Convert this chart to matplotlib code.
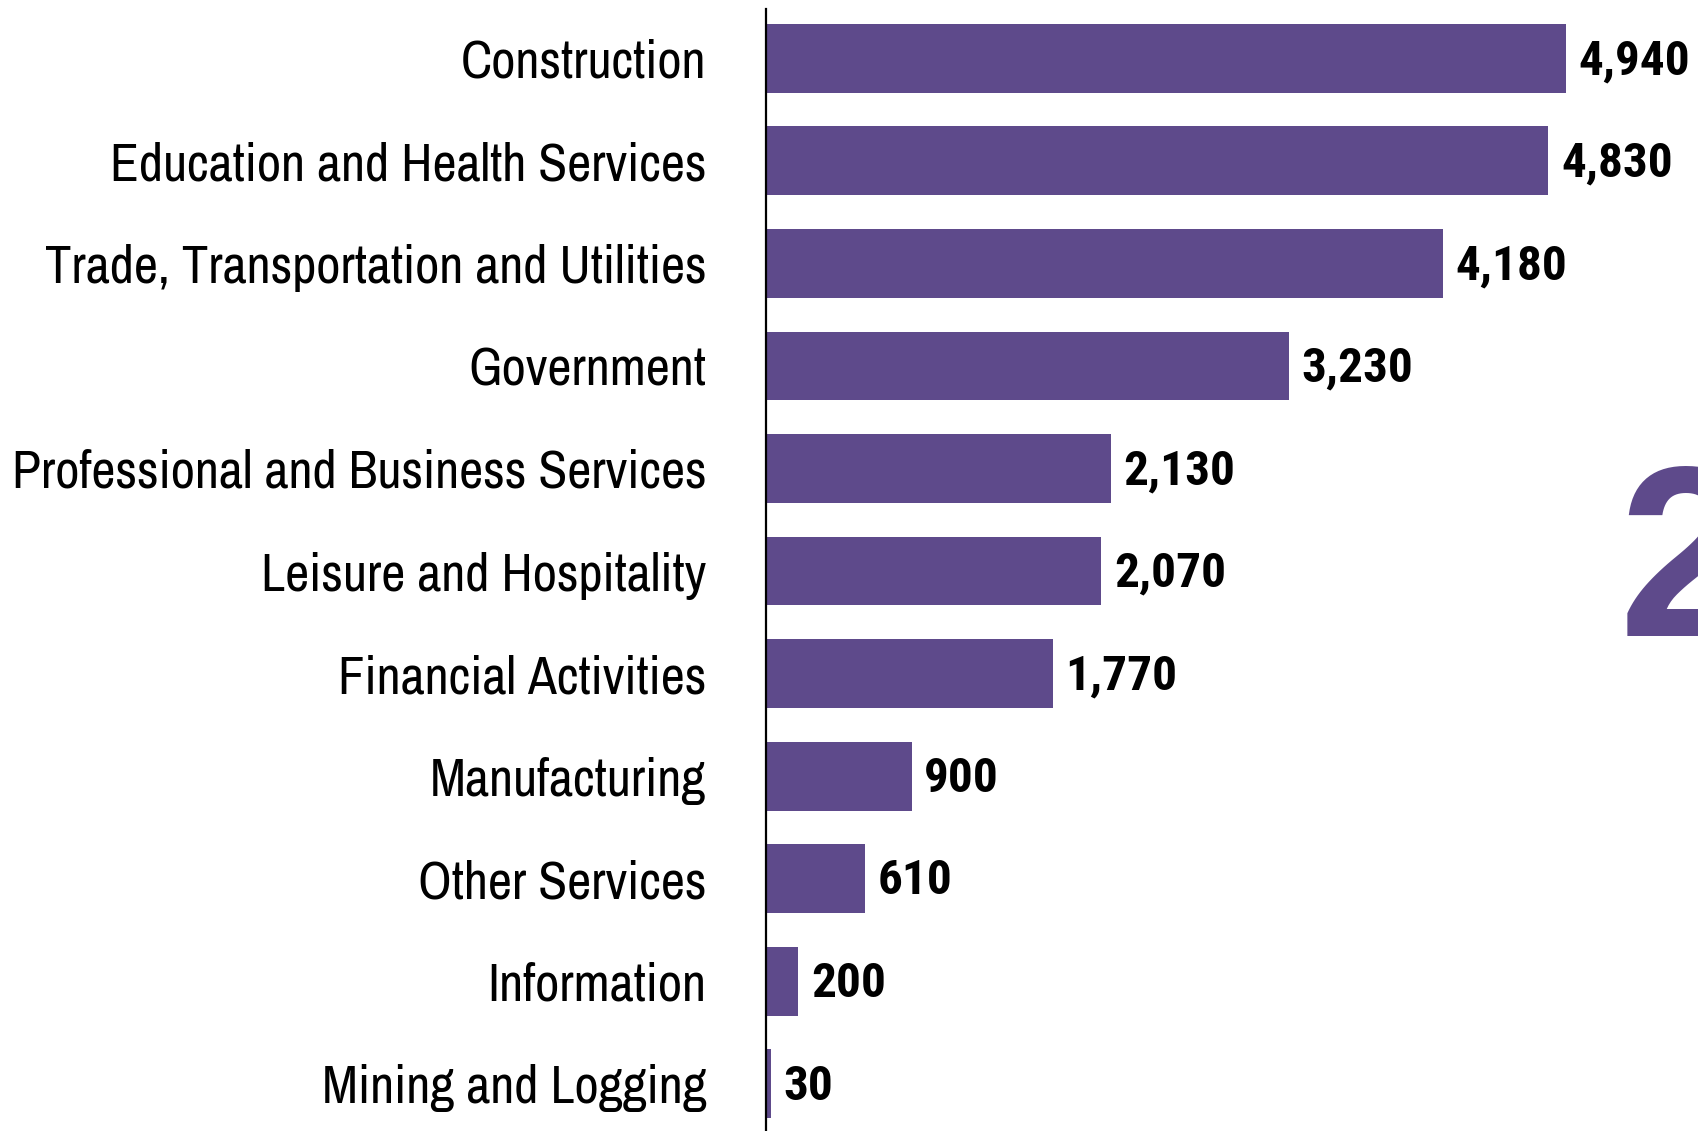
import matplotlib
matplotlib.use("Agg")
import matplotlib.pyplot as plt

# Dados do gráfico (empregos por setor)
sectors = [
    "Construction",
    "Education and Health Services",
    "Trade, Transportation and Utilities",
    "Government",
    "Professional and Business Services",
    "Leisure and Hospitality",
    "Financial Activities",
    "Manufacturing",
    "Other Services",
    "Information",
    "Mining and Logging",
]
values = [4940, 4830, 4180, 3230, 2130, 2070, 1770, 900, 610, 200, 30]

bar_color = "#5E4A8B"
label_fonts = ["Liberation Sans Narrow", "Arial Narrow", "Archivo Narrow", "DejaVu Sans"]
value_fonts = ["Liberation Sans Narrow", "Arial Narrow", "Roboto Condensed", "Barlow Semi Condensed", "DejaVu Sans"]

plt.rcParams["font.family"] = label_fonts

fig = plt.figure(figsize=(16.99, 11.31), dpi=100)
ax = fig.add_axes([766 / 1699, 0.0, 891 / 1699, 1 - 9 / 1131])

pos = list(range(len(sectors)))
bars = ax.barh(pos, values, height=0.67, color=bar_color)

ax.set_xlim(0, 5500)
ax.set_ylim(len(sectors) - 1 + 0.46, -0.48)

ax.set_yticks(pos)
ax.set_yticklabels(sectors, fontsize=38)
ax.tick_params(axis="y", length=0, pad=43)
ax.set_xticks([])

for s in ["top", "right", "bottom"]:
    ax.spines[s].set_visible(False)
ax.spines["left"].set_linewidth(1.6)
ax.spines["left"].set_color("black")

# Rótulos de valor ao lado de cada barra
for b, v in zip(bars, values):
    ax.annotate(f"{v:,}", (b.get_width(), b.get_y() + b.get_height() / 2),
                xytext=(9, -2), textcoords="offset points",
                va="center", ha="left", fontsize=35.5, fontweight="bold",
                family=value_fonts)

# "2" grande cortado na borda direita
fig.text(1619 / 1699, 1 - 636 / 1131, "2", fontsize=175, fontweight="bold",
         color=bar_color, ha="left", va="baseline", family=["Liberation Sans", "DejaVu Sans"])

fig.savefig("out.png", dpi=100)
plt.close()
